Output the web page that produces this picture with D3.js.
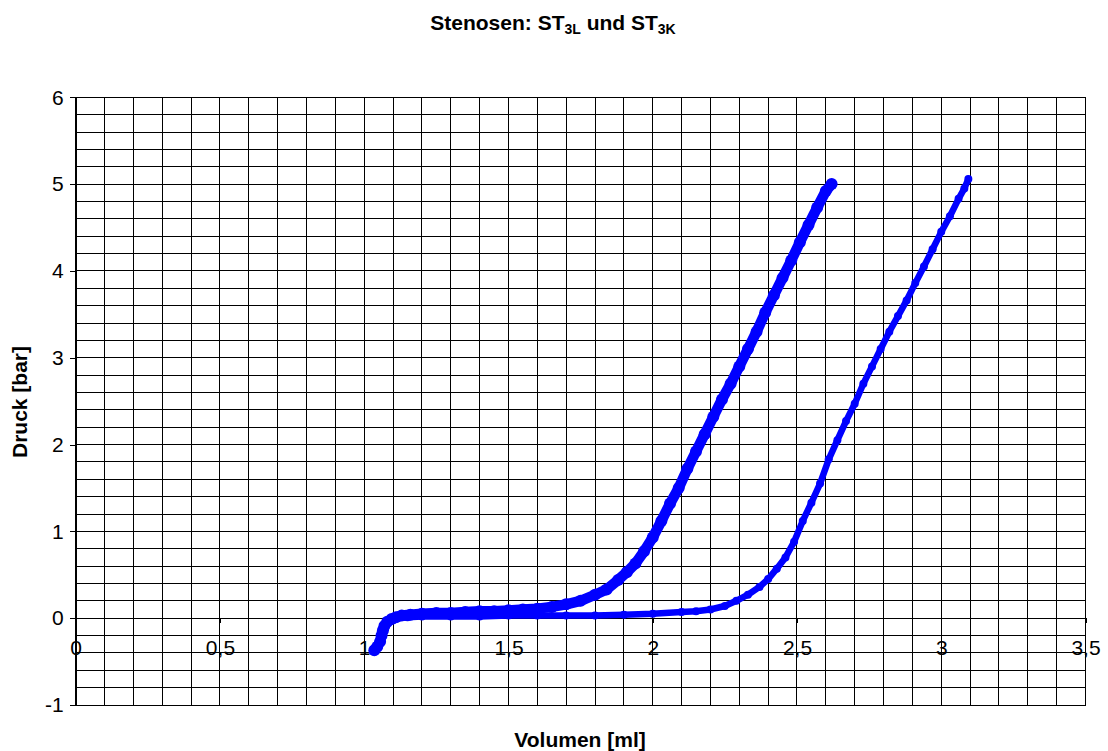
<!DOCTYPE html>
<html>
<head>
<meta charset="utf-8">
<script src="https://cdn.jsdelivr.net/npm/d3@7"></script>
<style>
  html, body { margin: 0; padding: 0; background: #fff; }
  text { font-family: "Liberation Sans", Arial, sans-serif; fill: #000; }
</style>
</head>
<body>
<svg id="chart" width="1108" height="751"></svg>
<script>
// Stenose ST3L: volume [ml] and pressure [bar]
const st3lVolume = [1.035, 1.045, 1.055, 1.06, 1.065, 1.07, 1.08, 1.095, 1.11, 1.13, 1.16, 1.2, 1.25, 1.3, 1.35, 1.4, 1.45, 1.5, 1.55, 1.6, 1.65, 1.7, 1.75, 1.8, 1.84, 1.88, 1.91, 1.94, 1.97, 2.0, 2.03, 2.06, 2.09, 2.12, 2.15, 2.18, 2.21, 2.24, 2.27, 2.3, 2.33, 2.36, 2.39, 2.42, 2.45, 2.48, 2.51, 2.54, 2.57, 2.6, 2.62];
const st3lPressure = [-0.37, -0.33, -0.27, -0.2, -0.14, -0.09, -0.04, -0.01, 0.01, 0.03, 0.04, 0.05, 0.06, 0.06, 0.07, 0.08, 0.08, 0.09, 0.1, 0.11, 0.13, 0.16, 0.2, 0.27, 0.33, 0.44, 0.53, 0.63, 0.77, 0.93, 1.12, 1.32, 1.5, 1.72, 1.92, 2.12, 2.32, 2.52, 2.7, 2.9, 3.1, 3.3, 3.52, 3.72, 3.92, 4.12, 4.33, 4.53, 4.73, 4.92, 5.0];

// Stenose ST3K: volume [ml] and pressure [bar]
const st3kVolume = [1.04, 1.055, 1.065, 1.075, 1.09, 1.11, 1.15, 1.2, 1.3, 1.4, 1.5, 1.6, 1.7, 1.8, 1.9, 2.0, 2.1, 2.15, 2.2, 2.25, 2.29, 2.33, 2.37, 2.4, 2.43, 2.46, 2.49, 2.52, 2.55, 2.58, 2.61, 2.64, 2.67, 2.7, 2.73, 2.76, 2.79, 2.82, 2.85, 2.88, 2.91, 2.94, 2.97, 3.0, 3.03, 3.06, 3.08, 3.094];
const st3kPressure = [-0.35, -0.25, -0.15, -0.08, -0.03, 0.0, 0.01, 0.02, 0.02, 0.02, 0.03, 0.03, 0.03, 0.03, 0.04, 0.05, 0.07, 0.08, 0.1, 0.14, 0.2, 0.27, 0.36, 0.45, 0.57, 0.7, 0.88, 1.12, 1.33, 1.55, 1.83, 2.05, 2.27, 2.47, 2.7, 2.9, 3.1, 3.3, 3.48, 3.66, 3.86, 4.05, 4.25, 4.45, 4.63, 4.83, 4.95, 5.06];

// Axis ticks and labels
const xTicks = [0, 0.5, 1, 1.5, 2, 2.5, 3, 3.5];
const yTicks = [-1, 0, 1, 2, 3, 4, 5, 6];
const xGridStep = 0.1;
const yGridStep = 0.2;

const svg = d3.select("#chart");
const plotLeft = 75.7, plotRight = 1085.5, plotTop = 97.3, plotBottom = 705;

const x = d3.scaleLinear().domain([0, 3.5]).range([plotLeft, plotRight]);
const y = d3.scaleLinear().domain([-1, 6]).range([plotBottom, plotTop]);

const fmt = v => String(v).replace(".", ",");

// Grid
const grid = svg.append("g").attr("shape-rendering", "crispEdges");
d3.range(0, 3.5 + 1e-9, xGridStep).forEach(v => {
  grid.append("line")
    .attr("x1", x(v)).attr("x2", x(v))
    .attr("y1", plotTop).attr("y2", plotBottom)
    .attr("stroke", "#000").attr("stroke-width", 1);
});
d3.range(-1, 6 + 1e-9, yGridStep).forEach(v => {
  grid.append("line")
    .attr("x1", plotLeft).attr("x2", plotRight)
    .attr("y1", y(v)).attr("y2", y(v))
    .attr("stroke", "#000").attr("stroke-width", 1);
});

// Plot frame
svg.append("rect")
  .attr("shape-rendering", "crispEdges")
  .attr("x", plotLeft).attr("y", plotTop)
  .attr("width", plotRight - plotLeft).attr("height", plotBottom - plotTop)
  .attr("fill", "none").attr("stroke", "#000").attr("stroke-width", 1);

// Y axis
const yAxis = d3.axisLeft(y).tickValues(yTicks).tickSize(6).tickPadding(6)
  .tickFormat(fmt);
const gy = svg.append("g").attr("transform", `translate(${plotLeft},0)`)
  .attr("shape-rendering", "crispEdges").call(yAxis);
gy.select(".domain").attr("stroke", "#000");
gy.selectAll(".tick line").attr("stroke", "#000");
gy.selectAll("text").attr("font-size", 21).attr("font-family", "Liberation Sans, Arial, sans-serif").attr("fill", "#000");

// X axis crossing at y = 0
const xAxis = d3.axisBottom(x).tickValues(xTicks).tickSize(5).tickPadding(17)
  .tickFormat(fmt);
const gx = svg.append("g").attr("transform", `translate(0,${y(0)})`)
  .attr("shape-rendering", "crispEdges").call(xAxis);
gx.select(".domain").attr("stroke", "#000");
gx.selectAll(".tick line").attr("stroke", "#000");
gx.selectAll("text").attr("font-size", 21).attr("font-family", "Liberation Sans, Arial, sans-serif").attr("fill", "#000");

// Series
function drawSeries(xs, ys, width, radius) {
  const pts = xs.map((v, i) => [v, ys[i]]);
  const g = svg.append("g");
  g.append("path")
    .attr("d", d3.line().x(d => x(d[0])).y(d => y(d[1]))(pts))
    .attr("fill", "none").attr("stroke", "#0000FF")
    .attr("stroke-width", width).attr("stroke-linejoin", "round").attr("stroke-linecap", "round");
  g.selectAll("circle").data(pts).join("circle")
    .attr("cx", d => x(d[0])).attr("cy", d => y(d[1]))
    .attr("r", radius).attr("fill", "#0000FF");
}
drawSeries(st3kVolume, st3kPressure, 6.5, 4);
drawSeries(st3lVolume, st3lPressure, 10.5, 6);

// Title with subscripts
const title = svg.append("text")
  .attr("x", 553).attr("y", 30)
  .attr("text-anchor", "middle")
  .attr("font-size", 21).attr("font-weight", "bold");
title.append("tspan").text("Stenosen: ST");
title.append("tspan").attr("font-size", 14).attr("dy", 4).text("3L");
title.append("tspan").attr("dy", -4).text(" und ST");
title.append("tspan").attr("font-size", 14).attr("dy", 4).text("3K");

// Axis titles
svg.append("text")
  .attr("x", 580).attr("y", 747)
  .attr("text-anchor", "middle")
  .attr("font-size", 21).attr("font-weight", "bold")
  .text("Volumen [ml]");

svg.append("text")
  .attr("transform", "translate(27,402) rotate(-90)")
  .attr("text-anchor", "middle")
  .attr("font-size", 21).attr("font-weight", "bold")
  .text("Druck [bar]");
</script>
</body>
</html>
